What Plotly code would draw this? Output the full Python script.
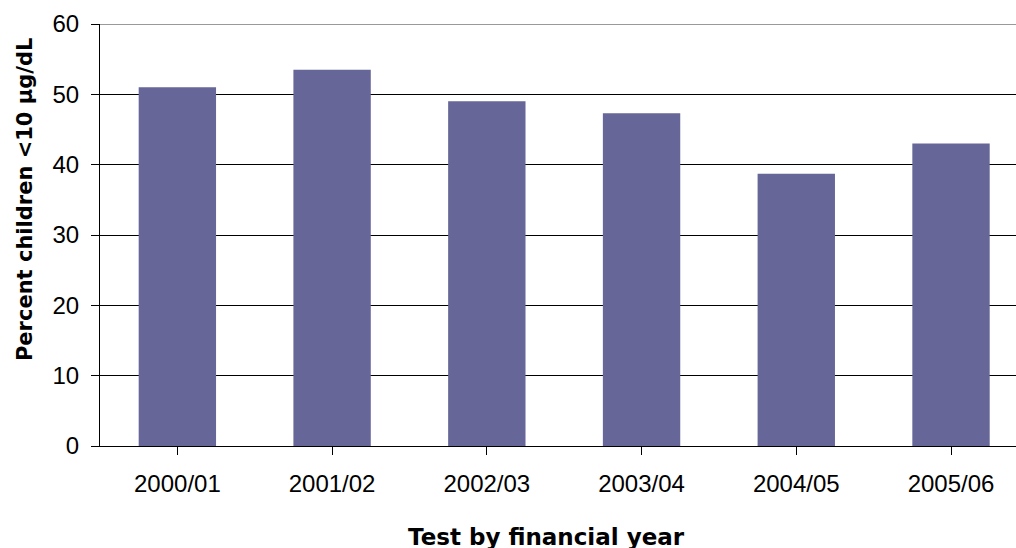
import plotly.graph_objects as go

# Share of tested children below 10 µg/dL, by financial year
years = ["2000/01", "2001/02", "2002/03", "2003/04", "2004/05", "2005/06"]
percent_below_10 = [51.0, 53.5, 49.0, 47.3, 38.7, 43.0]

y_ticks = [0, 10, 20, 30, 40, 50, 60]

x_title = "Test by financial year"
y_title = "Percent children <10 µg/dL"

fig = go.Figure(
    go.Bar(
        x=list(range(len(years))),
        y=percent_below_10,
        marker=dict(color="#666699", line=dict(width=0)),
        width=0.5,
        hoverinfo="skip",
    )
)

tick_font = dict(family="Liberation Sans, Arial, sans-serif", size=24, color="#000")
title_font = dict(family="DejaVu Sans, Verdana, sans-serif", size=23, color="#000")

fig.update_layout(
    width=1016,
    height=548,
    margin=dict(l=100, r=0, t=24, b=102),
    paper_bgcolor="white",
    plot_bgcolor="white",
    showlegend=False,
    xaxis=dict(
        range=[-0.5, 5.42],
        tickmode="array",
        tickvals=list(range(len(years))),
        ticktext=years,
        tickson="boundaries",
        ticks="outside",
        ticklen=8,
        tickcolor="#000",
        tickwidth=1,
        showline=True,
        linecolor="#000",
        linewidth=1,
        showgrid=False,
        zeroline=False,
        tickfont=tick_font,
        ticklabelstandoff=8,
    ),
    yaxis=dict(
        range=[0, 60],
        tickmode="array",
        tickvals=y_ticks,
        ticks="outside",
        ticklen=8,
        tickcolor="#000",
        tickwidth=1,
        showline=True,
        linecolor="#000",
        linewidth=1,
        showgrid=True,
        gridcolor="#000",
        gridwidth=1,
        zeroline=False,
        tickfont=tick_font,
        ticklabelstandoff=7,
    ),
)

# Axis titles
fig.add_annotation(
    text=f"<b>{x_title}</b>", xref="paper", yref="paper", x=0.487, y=-0.216,
    xanchor="center", yanchor="middle", showarrow=False, font=title_font,
)
fig.add_annotation(
    text=f"<b>{y_title}</b>", xref="paper", yref="paper", x=-0.082, y=0.585,
    xanchor="center", yanchor="middle", textangle=-90, showarrow=False,
    font=dict(title_font, size=21),
)

# Upper frame edge of the plotting area
fig.add_shape(
    type="line", xref="paper", yref="y", x0=0, x1=1, y0=60, y1=60,
    line=dict(color="#999999", width=2), layer="above",
)

fig.write_html("out.html")
